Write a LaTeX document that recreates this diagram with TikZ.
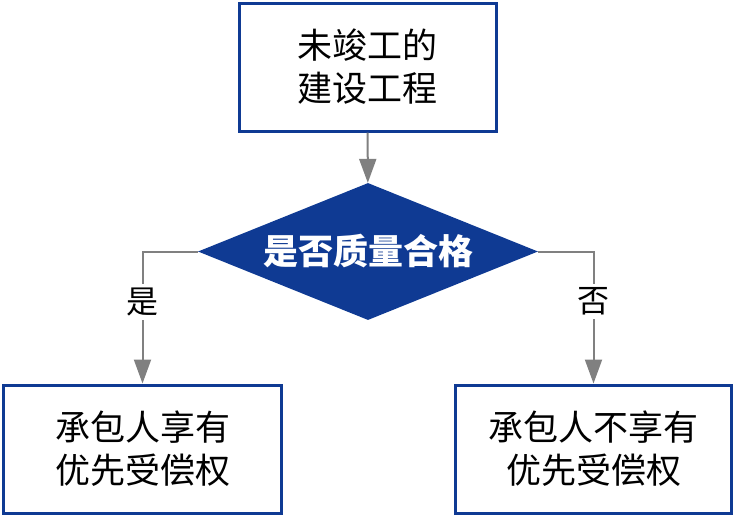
\documentclass[tikz,border=0pt]{standalone}
\usepackage{fontspec}
\setmainfont{Noto Sans CJK SC}
\usetikzlibrary{shapes.geometric,arrows.meta}
\definecolor{navy}{HTML}{0F3A93}
\definecolor{grey50}{HTML}{808080}

\begin{document}
\begin{tikzpicture}[x=1pt, y=-1pt,
    box/.style={draw=navy, line width=3pt, fill=white, inner sep=0pt,
      minimum width=#1, minimum height=128pt, align=center,
      font=\fontsize{35}{43}\selectfont},
    arr/.style={draw=grey50, line width=2pt,
      -{Triangle[length=24pt, width=17pt]}},
    lab/.style={fill=white, inner sep=4pt, font=\fontsize{32}{32}\selectfont}]

  \useasboundingbox (0, 0) rectangle (735, 517);

  \node[box=257pt] (work) at (367.5, 67) {未竣工的\\建设工程};
  \node[diamond, aspect=2.48, fill=navy, text=white, inner sep=0pt,
    minimum width=340pt, minimum height=137pt,
    font=\fontsize{35}{35}\selectfont\bfseries] (check) at (368, 251.5) {是否质量合格};
  \node[box=278pt] (yes) at (142.5, 449) {承包人享有\\优先受偿权};
  \node[box=276pt] (no) at (593.5, 449) {承包人不享有\\优先受偿权};

  \draw[arr] (work) -- (check);
  \draw[arr] (check.west) -| node[lab, pos=0.69] {是} (yes.north);
  \draw[arr] (check.east) -| node[lab, pos=0.69] {否} (no.north);

\end{tikzpicture}
\end{document}
